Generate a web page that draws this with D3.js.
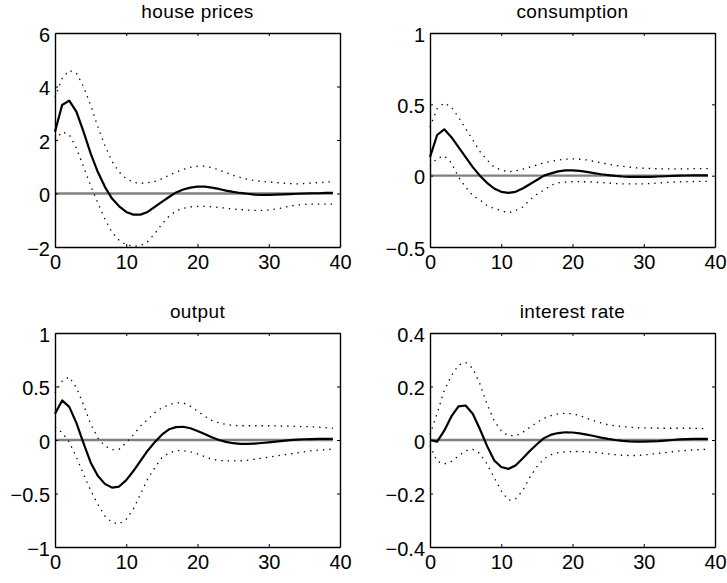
<!DOCTYPE html>
<html>
<head>
<meta charset="utf-8">
<script src="https://cdn.jsdelivr.net/npm/d3@7"></script>
<style>
  body { margin: 0; background: #fff; }
  svg text { font-family: "Liberation Sans", Arial, Helvetica, sans-serif; fill: #000; }
</style>
</head>
<body>
<svg id="chart" width="727" height="583"></svg>
<script>
// ---- data (horizon 0..39) ----
const titles = ["house prices", "consumption", "output", "interest rate"];
const xTicks = [0, 10, 20, 30, 40];

const houseMid = [2.31, 3.31, 3.47, 3.06, 2.31, 1.5, 0.81, 0.25, -0.19, -0.48, -0.69, -0.79, -0.79, -0.69, -0.5, -0.31, -0.13, 0.04, 0.15, 0.22,
  0.26, 0.26, 0.22, 0.17, 0.11, 0.06, 0.02, -0.01, -0.04, -0.05, -0.05, -0.04, -0.03, -0.02, -0.01, 0, 0.01, 0.01, 0.02, 0.02];
const houseUp = [3.6, 4.3, 4.6, 4.5, 4.0, 3.3, 2.5, 1.8, 1.2, 0.8, 0.55, 0.42, 0.38, 0.4, 0.45, 0.55, 0.68, 0.8, 0.9, 0.98,
  1.02, 1.02, 0.97, 0.88, 0.78, 0.68, 0.6, 0.53, 0.48, 0.45, 0.43, 0.41, 0.39, 0.37, 0.36, 0.37, 0.39, 0.41, 0.43, 0.44];
const houseLo = [2.0, 2.3, 2.2, 1.7, 1.0, 0.3, -0.35, -0.95, -1.45, -1.75, -1.92, -1.97, -1.95, -1.8, -1.5, -1.15, -0.85, -0.65, -0.55, -0.5,
  -0.48, -0.48, -0.5, -0.52, -0.55, -0.58, -0.6, -0.62, -0.63, -0.63, -0.62, -0.58, -0.53, -0.47, -0.43, -0.41, -0.4, -0.4, -0.4, -0.4];

const consMid = [0.13, 0.285, 0.325, 0.27, 0.2, 0.13, 0.06, 0.0, -0.05, -0.09, -0.113, -0.12, -0.113, -0.09, -0.06, -0.03, 0.0, 0.016, 0.03, 0.037,
  0.037, 0.033, 0.026, 0.018, 0.01, 0.004, -0.002, -0.006, -0.008, -0.009, -0.009, -0.008, -0.006, -0.004, -0.002, 0, 0.001, 0.002, 0.002, 0.002];
const consUp = [0.34, 0.47, 0.51, 0.48, 0.41, 0.33, 0.25, 0.17, 0.11, 0.06, 0.04, 0.027, 0.034, 0.045, 0.06, 0.075, 0.09, 0.1, 0.11, 0.115,
  0.118, 0.115, 0.11, 0.1, 0.09, 0.08, 0.072, 0.065, 0.06, 0.055, 0.052, 0.05, 0.048, 0.047, 0.047, 0.047, 0.048, 0.049, 0.05, 0.05];
const consLo = [0.07, 0.12, 0.14, 0.09, -0.01, -0.08, -0.14, -0.17, -0.21, -0.23, -0.245, -0.26, -0.245, -0.22, -0.17, -0.13, -0.1, -0.066, -0.05, -0.045,
  -0.042, -0.042, -0.043, -0.045, -0.048, -0.052, -0.055, -0.057, -0.058, -0.058, -0.057, -0.055, -0.052, -0.048, -0.045, -0.043, -0.042, -0.041, -0.04, -0.04];

const outMid = [0.245, 0.37, 0.31, 0.16, -0.03, -0.21, -0.335, -0.41, -0.445, -0.435, -0.375, -0.29, -0.195, -0.1, -0.02, 0.05, 0.1, 0.12, 0.124, 0.11,
  0.085, 0.055, 0.025, 0, -0.018, -0.03, -0.037, -0.037, -0.033, -0.028, -0.022, -0.015, -0.008, -0.002, 0.003, 0.007, 0.009, 0.01, 0.01, 0.01];
const outUp = [0.44, 0.55, 0.59, 0.49, 0.33, 0.15, 0.02, -0.055, -0.09, -0.087, -0.025, 0.05, 0.13, 0.19, 0.255, 0.3, 0.33, 0.347, 0.347, 0.316,
  0.27, 0.223, 0.183, 0.16, 0.145, 0.137, 0.133, 0.133, 0.133, 0.133, 0.133, 0.132, 0.13, 0.128, 0.126, 0.125, 0.124, 0.12, 0.115, 0.11];
const outLo = [0.12, 0.07, -0.02, -0.16, -0.32, -0.47, -0.6, -0.71, -0.77, -0.785, -0.74, -0.645, -0.505, -0.365, -0.26, -0.165, -0.12, -0.1, -0.1, -0.11,
  -0.13, -0.155, -0.18, -0.19, -0.195, -0.195, -0.195, -0.19, -0.18, -0.17, -0.16, -0.15, -0.14, -0.13, -0.12, -0.11, -0.1, -0.095, -0.09, -0.085];

const rateMid = [0.0, -0.006, 0.035, 0.088, 0.126, 0.129, 0.098, 0.041, -0.022, -0.076, -0.101, -0.108, -0.095, -0.069, -0.041, -0.016, 0.007, 0.02, 0.026, 0.029,
  0.028, 0.025, 0.02, 0.015, 0.009, 0.004, 0.0, -0.003, -0.005, -0.006, -0.006, -0.005, -0.004, -0.002, 0.0, 0.002, 0.003, 0.004, 0.004, 0.004];
const rateUp = [0.02, 0.1, 0.185, 0.24, 0.28, 0.29, 0.268, 0.21, 0.135, 0.072, 0.035, 0.016, 0.016, 0.028, 0.047, 0.066, 0.081, 0.091, 0.098, 0.1,
  0.098, 0.091, 0.081, 0.072, 0.064, 0.057, 0.053, 0.05, 0.048, 0.046, 0.045, 0.045, 0.044, 0.044, 0.044, 0.044, 0.044, 0.044, 0.043, 0.042];
const rateLo = [-0.02, -0.08, -0.09, -0.08, -0.06, -0.04, -0.035, -0.05, -0.09, -0.14, -0.19, -0.225, -0.22, -0.19, -0.14, -0.1, -0.07, -0.055, -0.047, -0.044,
  -0.043, -0.043, -0.044, -0.046, -0.049, -0.052, -0.055, -0.057, -0.058, -0.058, -0.056, -0.053, -0.05, -0.047, -0.044, -0.041, -0.039, -0.037, -0.036, -0.035];

const yTicksHouse = [-2, 0, 2, 4, 6];
const yTicksCons = [-0.5, 0, 0.5, 1];
const yTicksOut = [-1, -0.5, 0, 0.5, 1];
const yTicksRate = [-0.4, -0.2, 0, 0.2, 0.4];

// ---- layout ----
const panels = [
  { title: titles[0], mid: houseMid, up: houseUp, lo: houseLo, yt: yTicksHouse, x0: 55, y0: 33 },
  { title: titles[1], mid: consMid, up: consUp, lo: consLo, yt: yTicksCons, x0: 430, y0: 33 },
  { title: titles[2], mid: outMid, up: outUp, lo: outLo, yt: yTicksOut, x0: 55, y0: 333 },
  { title: titles[3], mid: rateMid, up: rateUp, lo: rateLo, yt: yTicksRate, x0: 430, y0: 333 }
];
const W = 285, H = 214;

const svg = d3.select("#chart");

panels.forEach(p => {
  const g = svg.append("g").attr("transform", `translate(${p.x0},${p.y0})`);

  const x = d3.scaleLinear().domain([0, 40]).range([0, W]);
  const y = d3.scaleLinear().domain(d3.extent(p.yt)).range([H, 0]);
  const fmt = d3.format("");

  const line = d3.line()
    .x((d, i) => x(i))
    .y(d => y(d));

  // zero line first
  g.append("path")
    .attr("d", line(p.mid.map(() => 0)))
    .attr("fill", "none")
    .attr("stroke", "#808080")
    .attr("stroke-width", 2.4);

  [p.up, p.lo].forEach(band => {
    g.append("path")
      .attr("d", line(band))
      .attr("fill", "none")
      .attr("stroke", "#000")
      .attr("stroke-width", 1.3)
      .attr("stroke-dasharray", "1.4 5");
  });

  g.append("path")
    .attr("d", line(p.mid))
    .attr("fill", "none")
    .attr("stroke", "#000")
    .attr("stroke-width", 2.2)
    .attr("stroke-linejoin", "round");

  // axes (MATLAB-like inward ticks, box)
  const axL = g.append("g")
    .call(d3.axisLeft(y).tickValues(p.yt).tickFormat(fmt).tickSizeInner(-3).tickSizeOuter(0).tickPadding(5));
  axL.selectAll("text").attr("dy", "0.4em");

  g.append("g").attr("transform", `translate(0,${H})`)
    .call(d3.axisBottom(x).tickValues(xTicks).tickFormat(fmt).tickSizeInner(-3).tickSizeOuter(0).tickPadding(8));

  g.append("g").attr("transform", `translate(${W},0)`)
    .call(d3.axisRight(y).tickValues(p.yt).tickFormat("").tickSizeInner(-3).tickSizeOuter(0));

  g.append("g")
    .call(d3.axisTop(x).tickValues(xTicks).tickFormat("").tickSizeInner(-3).tickSizeOuter(0));

  g.selectAll(".tick line").attr("stroke", "#000").attr("stroke-width", 1);
  g.selectAll(".domain").attr("stroke", "#000").attr("stroke-width", 1.4);
  g.selectAll(".tick text").attr("font-size", 20).attr("font-family", "Liberation Sans, Arial, sans-serif");

  g.append("text")
    .attr("x", W / 2)
    .attr("y", -15)
    .attr("text-anchor", "middle")
    .attr("font-size", 19)
    .attr("letter-spacing", 0.4)
    .text(p.title);
});
</script>
</body>
</html>
